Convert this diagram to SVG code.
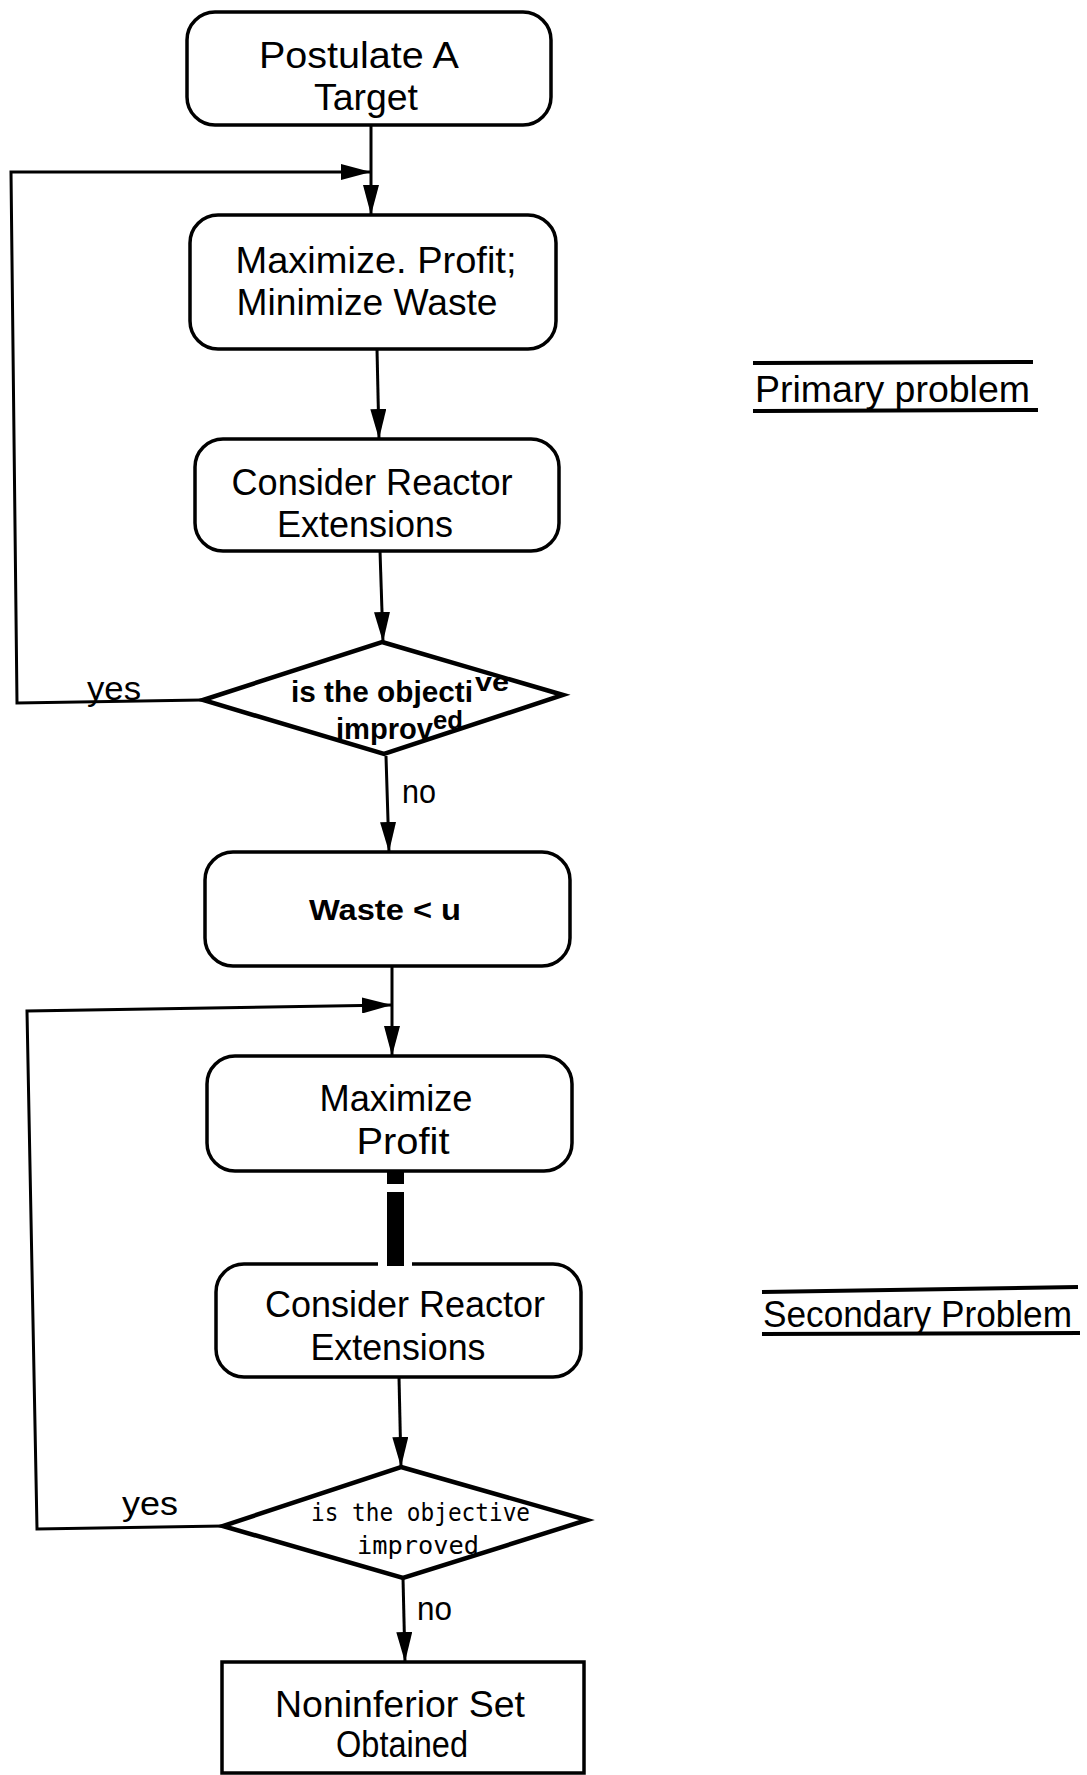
<svg xmlns="http://www.w3.org/2000/svg" width="1087" height="1775" viewBox="0 0 1087 1775">
  <style>
    .box { fill: #fff; stroke: #000; stroke-width: 3.5; }
    .dia { fill: #fff; stroke: #000; stroke-width: 4.5; stroke-linejoin: miter; }
    .con { fill: none; stroke: #000; stroke-width: 3; }
    .t { font-family: "Liberation Sans", Arial, sans-serif; font-size: 36px; fill: #000; }
    .tb { font-family: "Liberation Sans", Arial, sans-serif; font-size: 30px; font-weight: bold; fill: #000; }
    .sup { font-family: "Liberation Sans", Arial, sans-serif; font-size: 25px; font-weight: bold; fill: #000; }
    .tm { font-family: "DejaVu Sans Mono", "Liberation Mono", monospace; font-size: 24px; fill: #000; }
    .lbl { font-family: "Liberation Sans", Arial, sans-serif; font-size: 33px; fill: #000; }
    .rule { stroke: #000; stroke-width: 4; }
  </style>
  <defs>
    <marker id="ah" viewBox="0 0 30 16" refX="30" refY="8" markerWidth="30" markerHeight="16" markerUnits="userSpaceOnUse" orient="auto">
      <path d="M0,0 L30,8 L0,16 z" fill="#000"/>
    </marker>
  </defs>
  <rect width="1087" height="1775" fill="#fff"/>

  <g id="connectors">
    <line class="con" x1="371" y1="125" x2="371" y2="215" marker-end="url(#ah)"/>
    <polyline class="con" points="202,700 17,703 11,172 371,172" marker-end="url(#ah)"/>
    <line class="con" x1="377" y1="349" x2="379" y2="439" marker-end="url(#ah)"/>
    <line class="con" x1="380" y1="551" x2="383" y2="642" marker-end="url(#ah)"/>
    <line class="con" x1="386" y1="756" x2="389" y2="852" marker-end="url(#ah)"/>
    <line class="con" x1="392" y1="966" x2="392" y2="1056" marker-end="url(#ah)"/>
    <polyline class="con" points="223,1526 37,1529 27,1011 392,1005" marker-end="url(#ah)"/>
    <line class="con" x1="399" y1="1377" x2="401" y2="1467" marker-end="url(#ah)"/>
    <line class="con" x1="403" y1="1578" x2="405" y2="1662" marker-end="url(#ah)"/>
  </g>

  <g id="n1">
    <rect class="box" x="187" y="12" width="364" height="113" rx="28"/>
    <text class="t" x="359" y="68" text-anchor="middle" textLength="200" lengthAdjust="spacingAndGlyphs">Postulate  A</text>
    <text class="t" x="366" y="110" text-anchor="middle" textLength="104" lengthAdjust="spacingAndGlyphs">Target</text>
  </g>
  <g id="n2">
    <rect class="box" x="190" y="215" width="366" height="134" rx="28"/>
    <text class="t" x="376" y="273" text-anchor="middle" textLength="281" lengthAdjust="spacingAndGlyphs">Maximize. Profit;</text>
    <text class="t" x="367" y="315" text-anchor="middle" textLength="261" lengthAdjust="spacingAndGlyphs">Minimize  Waste</text>
  </g>
  <g id="n3">
    <rect class="box" x="195" y="439" width="364" height="112" rx="28"/>
    <text class="t" x="372" y="495" text-anchor="middle" textLength="281" lengthAdjust="spacingAndGlyphs">Consider  Reactor</text>
    <text class="t" x="365" y="537" text-anchor="middle" textLength="176" lengthAdjust="spacingAndGlyphs">Extensions</text>
  </g>
  <g id="d1">
    <polygon class="dia" points="382,642 563,695 384,754 203,700"/>
    <text class="tb" x="291" y="702" textLength="182" lengthAdjust="spacingAndGlyphs">is the objecti</text>
    <text class="sup" x="475" y="691" textLength="34" lengthAdjust="spacingAndGlyphs">ve</text>
    <text class="tb" x="336" y="739" textLength="97" lengthAdjust="spacingAndGlyphs">improv</text>
    <text class="sup" x="433" y="729" textLength="30" lengthAdjust="spacingAndGlyphs">ed</text>
    <text class="lbl" x="87" y="700" textLength="54" lengthAdjust="spacingAndGlyphs">yes</text>
    <text class="lbl" x="402" y="803" textLength="34" lengthAdjust="spacingAndGlyphs">no</text>
  </g>
  <g id="n4">
    <rect class="box" x="205" y="852" width="365" height="114" rx="28"/>
    <text class="tb" x="385" y="920" text-anchor="middle" textLength="152" lengthAdjust="spacingAndGlyphs">Waste  &lt;  u</text>
  </g>
  <g id="n5">
    <rect class="box" x="207" y="1056" width="365" height="115" rx="28"/>
    <text class="t" x="396" y="1111" text-anchor="middle" textLength="153" lengthAdjust="spacingAndGlyphs">Maximize</text>
    <text class="t" x="403" y="1154" text-anchor="middle" textLength="93" lengthAdjust="spacingAndGlyphs">Profit</text>
  </g>
  <g id="bar">
    <rect x="387" y="1171" width="17" height="13" fill="#000"/>
    <rect x="387" y="1192" width="17" height="74" fill="#000"/>
  </g>
  <g id="n6">
    <rect class="box" x="216" y="1264" width="365" height="113" rx="28"/>
    <rect x="378" y="1260" width="34" height="8" fill="#fff"/>
    <rect x="387" y="1258" width="17" height="8" fill="#000"/>
    <text class="t" x="405" y="1317" text-anchor="middle" textLength="280" lengthAdjust="spacingAndGlyphs">Consider  Reactor</text>
    <text class="t" x="398" y="1360" text-anchor="middle" textLength="175" lengthAdjust="spacingAndGlyphs">Extensions</text>
  </g>
  <g id="d2">
    <polygon class="dia" points="401,1467 587,1520 403,1578 223,1526"/>
    <text class="tm" x="311" y="1521" textLength="219" lengthAdjust="spacingAndGlyphs">is the objective</text>
    <text class="tm" x="357" y="1554" textLength="122" lengthAdjust="spacingAndGlyphs">improved</text>
    <text class="lbl" x="122" y="1515" textLength="56" lengthAdjust="spacingAndGlyphs">yes</text>
    <text class="lbl" x="417" y="1620" textLength="35" lengthAdjust="spacingAndGlyphs">no</text>
  </g>
  <g id="n7">
    <rect class="box" x="222" y="1662" width="362" height="111"/>
    <text class="t" x="400" y="1717" text-anchor="middle" textLength="250" lengthAdjust="spacingAndGlyphs">Noninferior  Set</text>
    <text class="t" x="402" y="1757" text-anchor="middle" textLength="132" lengthAdjust="spacingAndGlyphs">Obtained</text>
  </g>
  <g id="label-primary">
    <line class="rule" x1="753" y1="363" x2="1033" y2="362"/>
    <text class="t" x="755" y="402" textLength="275" lengthAdjust="spacingAndGlyphs">Primary  problem</text>
    <line class="rule" x1="753" y1="411" x2="1038" y2="410"/>
  </g>
  <g id="label-secondary">
    <line class="rule" x1="762" y1="1292" x2="1078" y2="1287"/>
    <text class="t" x="763" y="1327" textLength="309" lengthAdjust="spacingAndGlyphs">Secondary  Problem</text>
    <line class="rule" x1="762" y1="1334" x2="1080" y2="1333"/>
  </g>
</svg>
